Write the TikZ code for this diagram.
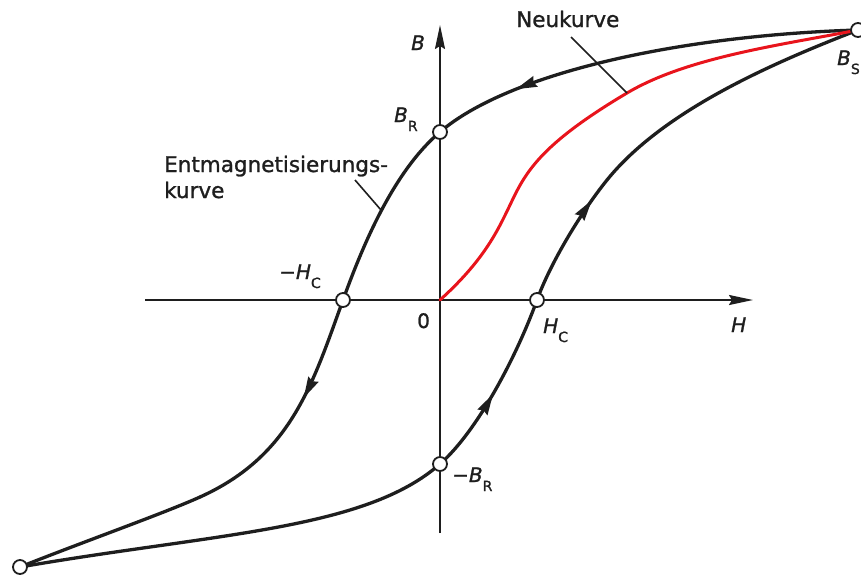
\documentclass[tikz,border=0pt]{standalone}
\usepackage{fontspec}
\setmainfont{DejaVu Sans}[FakeBold=1.2]
\usetikzlibrary{decorations.markings,arrows.meta}
\definecolor{neured}{RGB}{232,20,28}
\definecolor{ink}{RGB}{30,30,30}
\newcommand\sublab[2]{\textit{#1}\raisebox{-9pt}{\fontsize{14}{16}\selectfont #2}}
\begin{document}
\begin{tikzpicture}[x=1pt,y=-1pt,
  curve/.style={line width=3.3pt, line cap=round, draw=ink},
  axis/.style={line width=2pt, draw=ink, -{Stealth[length=24pt,width=10pt,inset=3pt]}},
  pt/.style={circle, draw=ink, line width=1.8pt, fill=white, inner sep=0pt, minimum size=14pt},
  lbl/.style={font=\fontsize{20}{24}\selectfont, inner sep=0pt, anchor=base west, text=ink},
  word/.style={lbl, font=\fontsize{21.5}{26}\selectfont},
  leader/.style={line width=1.6pt, draw=ink},
  marrow/.style={postaction={decorate}, decoration={markings,
     mark=at position #1 with {\arrow[ink]{Stealth[length=21pt,width=11pt,inset=2pt]}}}}
]
\useasboundingbox (0,0) rectangle (861,574);
% axes
\coordinate (Hstart) at (145,300);
\coordinate (Hend) at (753,300);
\coordinate (Bstart) at (440,533);
\coordinate (Bend) at (440,25);
\draw[axis] (Hstart) -- (Hend);
\draw[axis] (Bstart) -- (Bend);
% key points
\coordinate (pBS) at (858,30);
\coordinate (pBR) at (440,132);
\coordinate (pmHC) at (343,300);
\coordinate (pU) at (200,497);
\coordinate (pmBS) at (20,567);
\coordinate (pmBR) at (440,464);
\coordinate (pHC) at (537,300);
\coordinate (pL) at (607,180);
\coordinate (pO) at (440,300);
% upper (descending) branch
\draw[curve, marrow=0.8] (pBS) .. controls (678,35.4) and (508,73.5) .. (pBR);
\draw[curve] (pBR) .. controls (394,171) and (363.4,243.6) .. (pmHC);
\draw[curve, marrow=0.42] (pmHC) .. controls (312.4,384.6) and (291,456) .. (pU);
\draw[curve] (pU) .. controls (163.6,513.4) and (85.1,541.1) .. (pmBS);
% lower (ascending) branch
\draw[curve] (pmBS) .. controls (217,533) and (365,530) .. (pmBR);
\draw[curve, marrow=0.46] (pmBR) .. controls (477.5,431) and (516.6,356.4) .. (pHC);
\draw[curve, marrow=0.82] (pHC) .. controls (550.6,262.4) and (581.8,211.2) .. (pL);
\draw[curve] (pL) .. controls (663.7,109.8) and (774.3,62.4) .. (pBS);
% Neukurve
\coordinate (r1) at (510,205);
\coordinate (r2) at (627,93);
\draw[line width=3pt, line cap=round, neured] (pO) .. controls (483.4,260.7) and (497.1,232) .. (r1)
   .. controls (525,173.5) and (538.4,145.6) .. (r2)
   .. controls (687.2,57.3) and (779.6,45.2) .. (pBS);
% leaders
\coordinate (nkA) at (571,37);
\draw[leader] (nkA) -- (r2);
\coordinate (emA) at (355,180);
\coordinate (emB) at (381,210);
\draw[leader] (emA) -- (emB);
% points
\node[pt] (BR) at (pBR) {};
\node[pt] (mBR) at (pmBR) {};
\node[pt] (mHC) at (pmHC) {};
\node[pt] (HC) at (pHC) {};
\node[pt] (BS) at (pBS) {};
\node[pt] (mBS) at (pmBS) {};
% labels
\node[lbl] (labB) at (411,50) {\textit{B}};
\node[lbl] (labH) at (731,332) {\textit{H}};
\node[lbl] (labBR) at (394,122) {\sublab{B}{R}};
\node[lbl] (labmBR) at (452,482) {−\sublab{B}{R}};
\node[lbl] (labmHC) at (279,279) {−\sublab{H}{C}};
\node[lbl] (labHC) at (543,333) {\sublab{H}{C}};
\node[lbl] (lab0) at (417,328) {0};
\node[lbl] (labBS) at (837,65) {\sublab{B}{S}};
\node[word] (labNK) at (516,27) {Neukurve};
\node[word] (labEM1) at (164,172) {Entmagnetisierungs-};
\node[word] (labEM2) at (164,198) {kurve};
\end{tikzpicture}
\end{document}
